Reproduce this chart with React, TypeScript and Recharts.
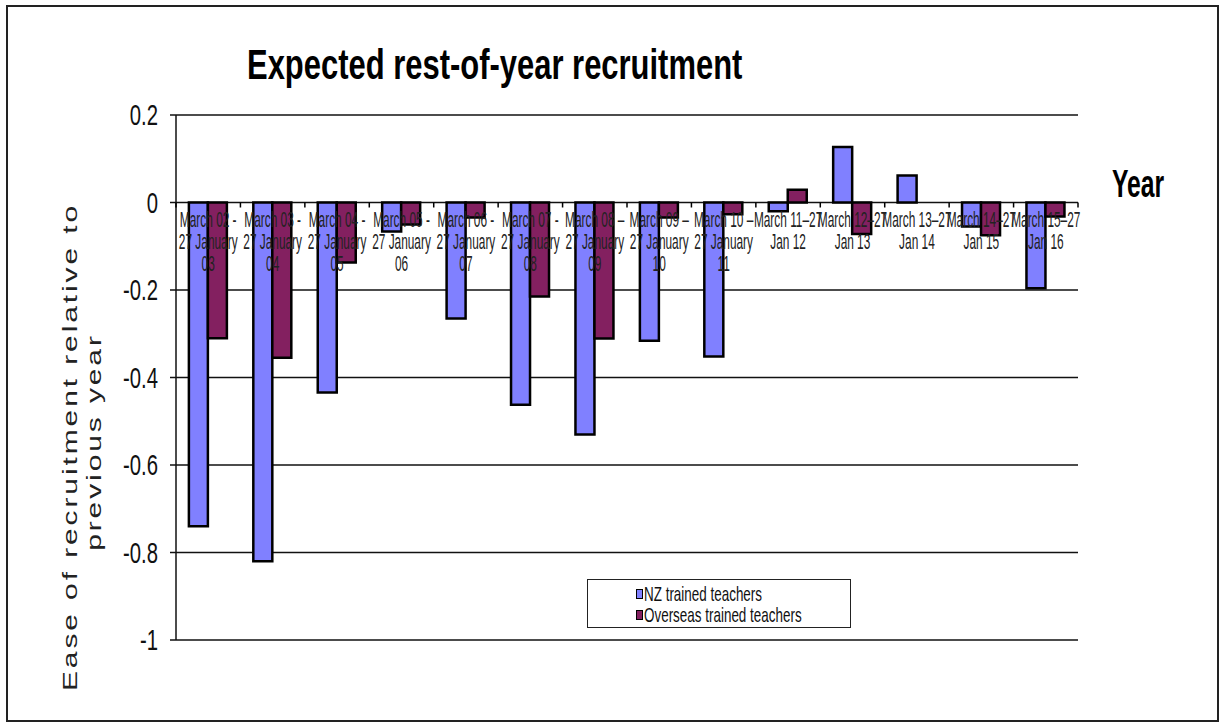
import { BarChart, Bar, XAxis, YAxis, CartesianGrid, Legend } from 'recharts';

const categories = [
  'March 02 -\n27 January\n03',
  'March 03 -\n27 January\n04',
  'March 04 -\n27 January\n05',
  'March 05 -\n27 January\n06',
  'March 06 -\n27 January\n07',
  'March 07 -\n27 January\n08',
  'March 08 –\n27 January\n09',
  'March 09 –\n27 January\n10',
  'March 10 –\n27 January\n11',
  'March 11–27\nJan 12',
  'March 12–27\nJan 13',
  'March 13–27\nJan 14',
  'March 14–27\nJan 15',
  'March 15–27\nJan 16',
];

const nzTrained = [-0.74, -0.82, -0.434, -0.066, -0.265, -0.462, -0.53, -0.316, -0.352, -0.02, 0.127, 0.062, -0.055, -0.196];
const overseasTrained = [-0.31, -0.355, -0.137, -0.05, -0.034, -0.215, -0.311, -0.034, -0.027, 0.029, -0.072, 0, -0.075, -0.032];

const yTicks = [0.2, 0, -0.2, -0.4, -0.6, -0.8, -1];
const Y_DOMAIN: [number, number] = [-1, 0.2];

const SERIES = [
  { key: 'nz', name: 'NZ trained teachers', color: '#8080ff' },
  { key: 'overseas', name: 'Overseas trained teachers', color: '#832060' },
];

const data = categories.map((c, i) => ({ label: c, nz: nzTrained[i], overseas: overseasTrained[i] }));

// layout
const W = 1221;
const H = 723;
const MARGIN = { top: 115, right: 143, bottom: 53, left: 0 };
const Y_AXIS_W = 176;
const X_AXIS_H = 30;
const PLOT_H = H - MARGIN.top - MARGIN.bottom - X_AXIS_H;
const PLOT_W = W - MARGIN.left - MARGIN.right - Y_AXIS_W;
const zeroY = MARGIN.top + PLOT_H * (Y_DOMAIN[1] / (Y_DOMAIN[1] - Y_DOMAIN[0]));
const step = PLOT_W / categories.length;
const FONT = '"Liberation Sans", Arial, sans-serif';

function XTick({ x, payload, index }: any) {
  const lines = String(payload.value).split('\n');
  const left = x - step / 2;
  return (
    <g>
      <line x1={left} x2={left} y1={zeroY} y2={zeroY + 5} stroke="#000" strokeWidth={1.5} />
      {index === categories.length - 1 && (
        <line x1={x + step / 2} x2={x + step / 2} y1={zeroY} y2={zeroY + 5} stroke="#000" strokeWidth={1.5} />
      )}
      <text
        transform={`translate(${x},${zeroY + 24}) scale(0.54,1)`}
        textAnchor="middle"
        fontSize={22}
        fontFamily={FONT}
        fill="#222"
      >
        {lines.map((l, i) => (
          <tspan key={i} x={0} dy={i === 0 ? 0 : 22.5}>{l}</tspan>
        ))}
      </text>
    </g>
  );
}

function YTick({ x, y, payload }: any) {
  return (
    <text
      transform={`translate(${x},${y + 10}) scale(0.7,1)`}
      textAnchor="end"
      fontSize={29}
      fontFamily={FONT}
      fill="#111"
    >
      {payload.value}
    </text>
  );
}

function LegendBox() {
  return (
    <div
      style={{
        width: 264,
        height: 49,
        border: '1.5px solid #222',
        background: '#fff',
        fontFamily: FONT,
        paddingTop: 3,
        boxSizing: 'border-box',
      }}
    >
      {SERIES.map((s) => (
        <div key={s.key} style={{ display: 'flex', alignItems: 'center', height: 21, paddingLeft: 48, lineHeight: 1 }}>
          <span
            style={{
              display: 'inline-block',
              width: 5,
              height: 8,
              background: s.color,
              border: '1.5px solid #000',
              marginRight: 1,
              flexShrink: 0,
            }}
          />
          <span
            style={{
              fontSize: 21,
              lineHeight: 1,
              color: '#111',
              whiteSpace: 'nowrap',
              transform: 'scaleX(0.64)',
              transformOrigin: 'left center',
              display: 'inline-block',
            }}
          >
            {s.name}
          </span>
        </div>
      ))}
    </div>
  );
}

export default function App() {
  return (
    <div style={{ position: 'absolute', left: 0, top: 0, width: W, height: H, background: '#fff' }}>
      <BarChart
        width={W}
        height={H}
        data={data}
        margin={MARGIN}
        barCategoryGap="20%"
        barGap={0}
      >
        <CartesianGrid vertical={false} stroke="#111" strokeWidth={1.5} />
        <YAxis
          width={Y_AXIS_W}
          domain={Y_DOMAIN}
          ticks={yTicks}
          interval={0}
          axisLine={{ stroke: '#111', strokeWidth: 1.5 }}
          tickLine={{ stroke: '#111', strokeWidth: 1.5 }}
          tickSize={6}
          tickMargin={12}
          tick={<YTick />}
        />
        <Legend
          layout="vertical"
          align="center"
          verticalAlign="middle"
          wrapperStyle={{ left: 587, top: 579, width: 264 }}
          content={() => <LegendBox />}
        />
        {SERIES.map((s) => (
          <Bar
            key={s.key}
            dataKey={s.key}
            name={s.name}
            fill={s.color}
            stroke="#000"
            strokeWidth={2.5}
            isAnimationActive={false}
          />
        ))}
        <XAxis
          dataKey="label"
          axisLine={false}
          tickLine={false}
          interval={0}
          height={X_AXIS_H}
          tick={<XTick />}
          zIndex={2000}
        />
      </BarChart>
      <svg
        width={W}
        height={H}
        style={{ position: 'absolute', left: 0, top: 0, pointerEvents: 'none' }}
      >
        <rect x={7} y={6} width={1211} height={715} fill="none" stroke="#222" strokeWidth={2} />
        <text
          transform="translate(247,79) scale(0.72,1)"
          fontSize={43}
          fontWeight="bold"
          fontFamily={FONT}
          fill="#000"
        >
          Expected rest-of-year recruitment
        </text>
        <text
          transform="translate(1112,197) scale(0.65,1)"
          fontSize={38}
          fontWeight="bold"
          fontFamily={FONT}
          fill="#000"
        >
          Year
        </text>
        <text
          transform="translate(77,447) scale(0.7,1) rotate(-90)"
          fontSize={30}
          letterSpacing={2.9}
          textAnchor="middle"
          fontFamily={FONT}
          fill="#222"
        >
          Ease of recruitment relative to
        </text>
        <text
          transform="translate(101,442) scale(0.7,1) rotate(-90)"
          fontSize={30}
          letterSpacing={2.9}
          textAnchor="middle"
          fontFamily={FONT}
          fill="#222"
        >
          previous year
        </text>
      </svg>
    </div>
  );
}
